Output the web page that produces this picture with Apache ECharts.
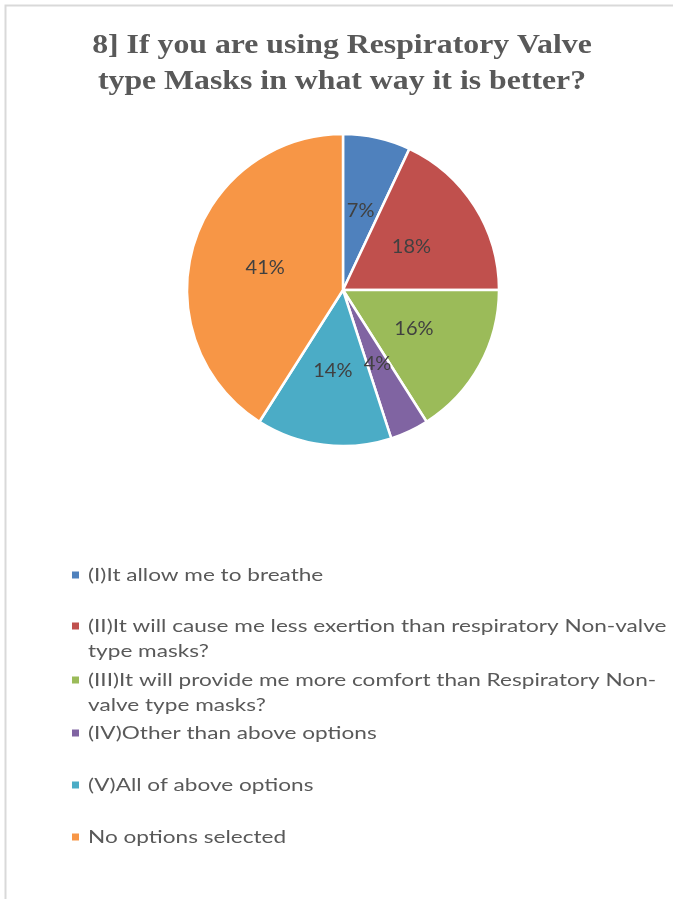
<!DOCTYPE html>
<html>
<head>
<meta charset="utf-8">
<script src="https://cdn.jsdelivr.net/npm/echarts@6/dist/echarts.min.js"></script>
<style>
  html, body { margin: 0; padding: 0; background: #fff; }
  #chart { width: 673px; height: 899px; }
</style>
</head>
<body>
<div id="chart"></div>
<script>
// answer categories (pie order, clockwise from 12 o'clock)
var categories = [
  "(I)It allow me to breathe",
  "(II)It will cause me less exertion than respiratory Non-valve type masks?",
  "(III)It will provide me more comfort than Respiratory Non-valve type masks?",
  "(IV)Other than above options",
  "(V)All of above options",
  "No options selected"
];
// legend text, wrapped like the original
var legendLabels = [
  "(I)It allow me to breathe",
  "(II)It will cause me less exertion than respiratory Non-valve\ntype masks?",
  "(III)It will provide me more comfort than Respiratory Non-\nvalve type masks?",
  "(IV)Other than above options",
  "(V)All of above options",
  "No options selected"
];
// percentages
var values = [7, 18, 16, 4, 14, 41];
var colors = ["#4F81BD", "#C0504D", "#9BBB59", "#8064A2", "#4BACC6", "#F79646"];
var titleText = "8] If you are using Respiratory Valve\ntype Masks in what way it is better?";

var chart = echarts.init(document.getElementById("chart"));

var pieData = categories.map(function (name, i) {
  return { name: name, value: values[i], itemStyle: { color: colors[i] } };
});

// legend rows (y of first line); the original image is a bit stretched sideways
var legendY = [575, 626, 680, 733, 785, 837];
var legendGraphic = [];
legendLabels.forEach(function (label, i) {
  legendGraphic.push({
    type: "rect",
    shape: { x: 72, y: legendY[i] - 3.5, width: 7, height: 7 },
    style: { fill: colors[i] }
  });
  legendGraphic.push({
    type: "text",
    x: 88,
    y: legendY[i] - 12.5,
    scaleX: 1.255,
    style: {
      text: label,
      fill: "#595959",
      font: "18px Lato",
      lineHeight: 25,
      verticalAlign: "top"
    }
  });
});

var option = {
  backgroundColor: "#fff",
  animation: false,
  graphic: [
    //外框
    {
      type: "rect",
      shape: { x: 5.5, y: 5.5, width: 720, height: 1000 },
      style: { fill: "none", stroke: "#d9d9d9", lineWidth: 2 }
    },
    //标题
    {
      type: "text",
      x: 342,
      y: 28,
      scaleX: 1.135,
      style: {
        text: titleText,
        fill: "#595959",
        font: "bold 28px 'Liberation Serif'",
        lineHeight: 36,
        align: "center",
        verticalAlign: "top"
      }
    }
  ].concat(legendGraphic),
  series: [
    {
      type: "pie",
      center: [343, 290],
      radius: 156,
      startAngle: 90,
      clockwise: true,
      data: pieData,
      itemStyle: {
        borderColor: "#fff",
        borderWidth: 2.5
      },
      label: {
        show: true,
        position: "inside",
        formatter: "{c}%",
        color: "#404040",
        fontFamily: "Lato",
        fontSize: 20
      },
      labelLine: { show: false },
      emphasis: { scale: false }
    }
  ]
};
chart.setOption(option);
</script>
</body>
</html>
